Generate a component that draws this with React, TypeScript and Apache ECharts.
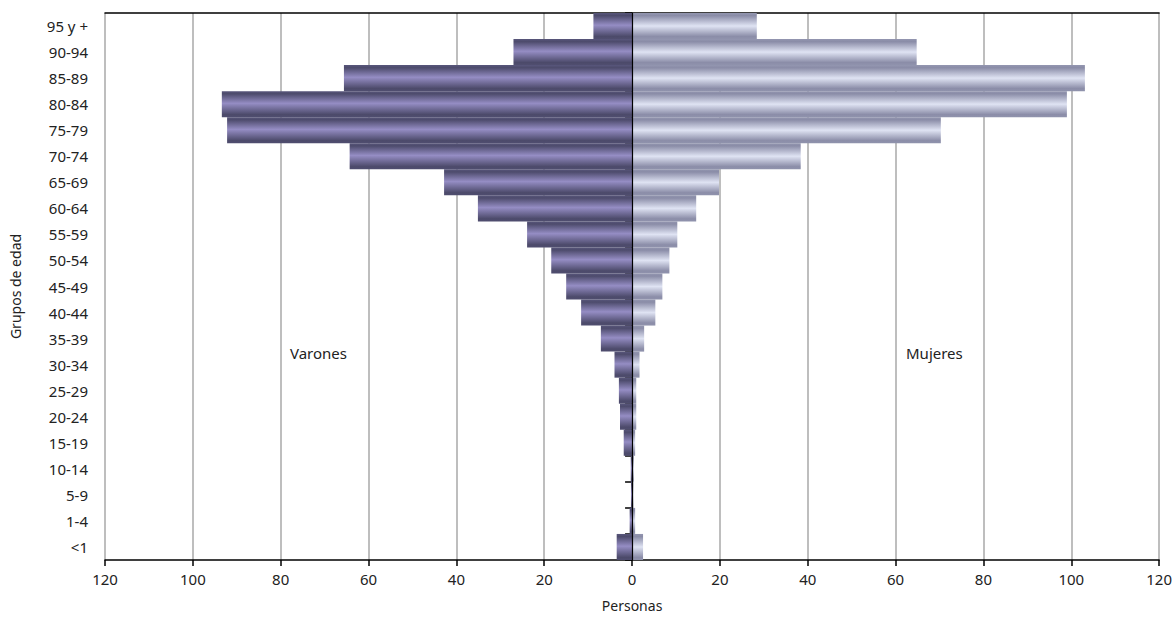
import React, { useEffect, useRef } from "react";
import * as echarts from "echarts";

const categories = ["<1", "1-4", "5-9", "10-14", "15-19", "20-24", "25-29", "30-34", "35-39", "40-44", "45-49", "50-54", "55-59", "60-64", "65-69", "70-74", "75-79", "80-84", "85-89", "90-94", "95 y +"];
const varones = [3.5, 0.55, 0.25, 0.3, 1.9, 2.75, 3.0, 4.0, 7.1, 11.6, 15.0, 18.4, 23.9, 35.1, 42.8, 64.3, 92.2, 93.4, 65.6, 27.0, 8.8];
const mujeres = [2.5, 0.7, 0.3, 0.4, 0.7, 0.95, 0.95, 1.7, 2.75, 5.3, 6.9, 8.5, 10.3, 14.6, 19.8, 38.4, 70.3, 99.0, 103.1, 64.8, 28.4];
const xTicks = { min: -120, max: 120, interval: 20 };

const FONT = "Noto Sans";

export default function App() {
  const ref = useRef<HTMLDivElement>(null);
  useEffect(() => {
    document.body.style.margin = "0";
    const chart = echarts.init(ref.current!, null, { renderer: "svg" });
    const maleGrad = new echarts.graphic.LinearGradient(0, 0, 0, 1, [
      { offset: 0, color: "#58567b" },
      { offset: 0.1, color: "#4d4b6c" },
      { offset: 0.47, color: "#958dc4" },
      { offset: 0.9, color: "#4c4a6a" },
      { offset: 1, color: "#504e70" },
    ]);
    const femaleGrad = new echarts.graphic.LinearGradient(0, 0, 0, 1, [
      { offset: 0, color: "#9396b0" },
      { offset: 0.1, color: "#8a8ca7" },
      { offset: 0.5, color: "#dfe3f3" },
      { offset: 0.9, color: "#8b8da8" },
      { offset: 1, color: "#9093ad" },
    ]);
    const textStyle = { fontFamily: FONT, fontSize: 15, color: "#222" };
    chart.setOption({
      animation: false,
      textStyle: { fontFamily: FONT },
      grid: { left: 100, right: 14, top: 13, bottom: 54 },
      xAxis: [
        {
          type: "value",
          min: xTicks.min,
          max: xTicks.max,
          interval: xTicks.interval,
          position: "bottom",
          name: "Personas",
          nameLocation: "middle",
          nameGap: 38,
          nameTextStyle: { ...textStyle, fontSize: 14 },
          axisLine: { show: true, lineStyle: { color: "#000", width: 1.5 } },
          axisTick: { show: true, length: 6, lineStyle: { color: "#000", width: 1.5 } },
          axisLabel: { ...textStyle, margin: 11, formatter: (v: number) => String(Math.abs(v)) },
          splitLine: { show: true, lineStyle: { color: "#a8a8a8", width: 1.5 } },
        },
        {
          type: "value",
          min: xTicks.min,
          max: xTicks.max,
          interval: xTicks.interval,
          position: "top",
          axisLine: { show: true, lineStyle: { color: "#000", width: 1.5 } },
          axisTick: { show: false },
          axisLabel: { show: false },
          splitLine: { show: false },
        },
      ],
      yAxis: {
        type: "category",
        data: categories,
        name: "Grupos de edad",
        nameLocation: "middle",
        nameGap: 83,
        nameTextStyle: { ...textStyle, fontSize: 14 },
        axisLine: { show: true, lineStyle: { color: "#000", width: 1.5 } },
        axisTick: { show: true, length: 7, lineStyle: { color: "#000", width: 1.5 } },
        axisLabel: { ...textStyle, margin: 17 },
        splitLine: { show: false },
      },
      series: [
        {
          name: "Varones",
          type: "bar",
          stack: "total",
          barCategoryGap: 0,
          data: varones.map((v) => -v),
          itemStyle: { color: maleGrad },
          markLine: {
            silent: true,
            symbol: "none",
            label: { show: false },
            lineStyle: { color: "#000", width: 1.2, type: "solid" },
            data: [{ xAxis: 0 }],
          },
        },
        {
          name: "Mujeres",
          type: "bar",
          stack: "total",
          barCategoryGap: 0,
          data: mujeres,
          itemStyle: { color: femaleGrad },
        },
      ],
      graphic: [
        { type: "text", left: 290, top: 345, style: { text: "Varones", font: `15px "${FONT}"`, fill: "#222" } },
        { type: "text", left: 906, top: 345, style: { text: "Mujeres", font: `15px "${FONT}"`, fill: "#222" } },
      ],
    });
    return () => chart.dispose();
  }, []);
  return <div ref={ref} style={{ width: 1175, height: 617 }} />;
}
